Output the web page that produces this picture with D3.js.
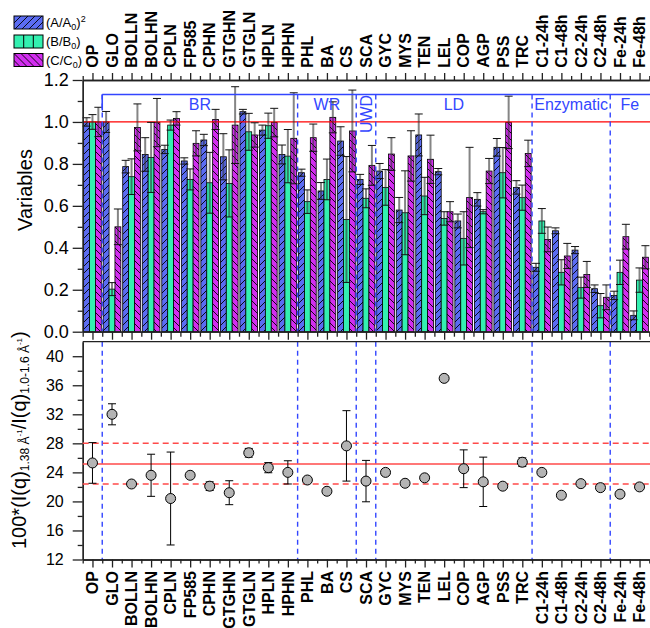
<!DOCTYPE html>
<html>
<head>
<meta charset="utf-8">
<script src="https://cdn.jsdelivr.net/npm/d3@7"></script>
<style>
  body { margin: 0; background: #fff; }
  svg { display: block; font-family: Arial, "Liberation Sans", sans-serif; }
</style>
</head>
<body>
<svg id="chart" width="650" height="628"></svg>
<script>
// ---- data ----
const cats = ["OP", "GLO", "BOLLN", "BOLHN", "CPLN", "FP585", "CPHN", "GTGHN", "GTGLN", "HPLN", "HPHN",
  "PHL", "BA", "CS", "SCA", "GYC", "MYS", "TEN", "LEL", "COP", "AGP", "PSS", "TRC",
  "C1-24h", "C1-48h", "C2-24h", "C2-48h", "Fe-24h", "Fe-48h"];

// (A/A0)^2
const valA = [1.0, 1.0, 0.787, 0.845, 0.869, 0.814, 0.914, 0.834, 1.049, 0.961, 0.845,
  0.758, 0.671, 0.909, 0.726, 0.766, 0.58, 0.938, 0.763, 0.528, 0.631, 0.879, 0.688,
  0.307, 0.481, 0.389, 0.205, 0.173, 0.078];
const errA = [0.02, 0.05, 0.03, 0.08, 0.02, 0.015, 0.027, 0.11, 0.011, 0.024, 0.045,
  0.017, 0.04, 0.068, 0.024, 0.036, 0.06, 0.1, 0.015, 0.033, 0.032, 0.042, 0.032,
  0.019, 0.014, 0.017, 0.018, 0.02, 0.021];
// (B/B0)
const valB = [1.0, 0.203, 0.739, 0.831, 0.985, 0.726, 0.71, 0.707, 0.953, 0.982, 0.837,
  0.62, 0.726, 0.535, 0.636, 0.688, 0.567, 0.647, 0.54, 0.445, 0.572, 0.758, 0.639,
  0.528, 0.283, 0.21, 0.124, 0.283, 0.246];
const errB = [0.035, 0.031, 0.085, 0.167, 0.024, 0.05, 0.145, 0.16, 0.088, 0.06, 0.127,
  0.056, 0.097, 0.3, 0.045, 0.085, 0.2, 0.089, 0.032, 0.127, 0.01, 0.12, 0.06,
  0.059, 0.06, 0.05, 0.058, 0.058, 0.058];
// (C/C0)
const valC = [1.0, 0.5, 0.974, 0.997, 1.017, 0.898, 1.012, 0.985, 0.938, 0.997, 0.922,
  0.925, 1.022, 0.957, 0.793, 0.847, 0.838, 0.822, 0.572, 0.64, 0.766, 0.998, 0.85,
  0.44, 0.361, 0.273, 0.164, 0.453, 0.355];
const errC = [0.07, 0.085, 0.112, 0.115, 0.032, 0.06, 0.048, 0.183, 0.058, 0.068, 0.217,
  0.065, 0.074, 0.195, 0.095, 0.078, 0.12, 0.115, 0.048, 0.239, 0.06, 0.125, 0.063,
  0.059, 0.06, 0.062, 0.059, 0.059, 0.055];

// 100*I(q)1.38 / I(q)1.0-1.6
const ratio = [25.3, 32.0, 22.4, 23.6, 20.4, 23.6, 22.1, 21.2, 26.7, 24.65, 24.0,
  22.95, 21.4, 27.65, 22.8, 24.0, 22.5, 23.25, 36.95, 24.5, 22.7, 22.1, 25.4,
  24.0, 20.85, 22.45, 21.9, 21.0, 22.0];
const ratioErr = [2.8, 1.45, 0.3, 2.9, 6.4, 0, 0.6, 1.65, 0.6, 0.7, 1.6,
  0.2, 0.3, 4.85, 2.85, 0.4, 0.2, 0.3, 0.3, 2.6, 3.4, 0.3, 0.6,
  0, 0, 0, 0, 0, 0];
const ratioRef = 25.15, ratioLo = 22.4, ratioHi = 28.0;

// sample groups: [start, end) category index
const groupNames = ["BR", "WR", "UWD", "LD", "Enzymatic", "Fe"];
const groupStart = [1, 11, 14, 15, 23, 27];
const groupEnd = [11, 14, 15, 23, 27, 29];

const topTicks = [0, 0.2, 0.4, 0.6, 0.8, 1.0, 1.2];
const topMinor = [0.1, 0.3, 0.5, 0.7, 0.9, 1.1];
const botTicks = [12, 16, 20, 24, 28, 32, 36, 40];
const botMinor = [14, 18, 22, 26, 30, 34, 38];

const seriesKeys = ["A", "B", "C"];
const seriesVals = { A: valA, B: valB, C: valC };
const seriesErr = { A: errA, B: errB, C: errC };

// ---- layout ----
const L = 82.7, R = 649.3;
const T0 = 80, T1 = 331.7;      // top panel
const B0 = 341.7, B1 = 559.5;   // bottom panel
const BLUE = "#3346ff", COLA = "#5b6cf2", COLB = "#33f0b0", COLC = "#d22ef0";
const CAT_FS = 16;

const svg = d3.select("#chart");
const x = d3.scaleBand().domain(cats).range([L, R]).padding(0);
const xi = d3.scaleLinear().domain([0, cats.length]).range([L, R]);
const xs = d3.scaleBand().domain(seriesKeys).range([0, x.bandwidth()]).paddingInner(0).paddingOuter(0.16);
const yT = d3.scaleLinear().domain([0, 1.2]).range([T1, T0]);
const yB = d3.scaleLinear().domain([12, 42]).range([B1, B0]);

// patterns
const defs = svg.append("defs");
function hatch(id, fill, d) {
  const p = defs.append("pattern").attr("id", id).attr("patternUnits", "userSpaceOnUse")
    .attr("width", 7).attr("height", 7);
  p.append("rect").attr("width", 7).attr("height", 7).attr("fill", fill);
  p.append("path").attr("d", d).attr("stroke", "#000").attr("stroke-width", 0.9);
}
hatch("hA", COLA, "M0,7 l7,-7 M-1.75,1.75 l3.5,-3.5 M5.25,8.75 l3.5,-3.5");
hatch("hC", COLC, "M0,0 l7,7 M-1.75,5.25 l3.5,3.5 M5.25,-1.75 l3.5,3.5");
const fillOf = { A: "url(#hA)", B: COLB, C: "url(#hC)" };

// ---- top panel: bars ----
const gBars = svg.append("g");
seriesKeys.forEach((k) => {
  gBars.selectAll("rect.b" + k).data(cats).join("rect").attr("class", "b" + k)
    .attr("x", (c) => x(c) + xs(k)).attr("width", xs.bandwidth())
    .attr("y", (c, i) => yT(seriesVals[k][i])).attr("height", (c, i) => T1 - yT(seriesVals[k][i]))
    .attr("fill", fillOf[k]).attr("stroke", "#000").attr("stroke-width", 0.8);
});

// red reference at 1.0
svg.append("line").attr("x1", L).attr("x2", 650).attr("y1", yT(1)).attr("y2", yT(1))
  .attr("stroke", "#ff0000").attr("stroke-width", 1.2);

// error bars
const gErr = svg.append("g");
seriesKeys.forEach((k) => {
  cats.forEach((c, i) => {
    const cx = x(c) + xs(k) + xs.bandwidth() / 2;
    const v = seriesVals[k][i], e = seriesErr[k][i];
    gErr.append("line").attr("x1", cx).attr("x2", cx).attr("y1", yT(v - e)).attr("y2", yT(v + e))
      .attr("stroke", "#333").attr("stroke-opacity", 0.6).attr("stroke-width", 2);
    [v - e, v + e].forEach((t) => gErr.append("line").attr("x1", cx - 4).attr("x2", cx + 4)
      .attr("y1", yT(t)).attr("y2", yT(t)).attr("stroke", "#111").attr("stroke-width", 1));
  });
});

// ---- group brackets ----
const yBr = yT(1.131);
svg.append("line").attr("x1", xi(1)).attr("x2", 650).attr("y1", yBr).attr("y2", yBr)
  .attr("stroke", BLUE).attr("stroke-width", 1.6);
svg.append("line").attr("x1", xi(1)).attr("x2", xi(1)).attr("y1", yBr).attr("y2", yBr + 16)
  .attr("stroke", BLUE).attr("stroke-width", 1.6);
const bounds = Array.from(new Set(groupStart));
bounds.forEach((b) => {
  [[yBr, T1], [B0, B1]].forEach(([a, z]) => svg.append("line")
    .attr("x1", xi(b)).attr("x2", xi(b)).attr("y1", a).attr("y2", z)
    .attr("stroke", BLUE).attr("stroke-width", 1.4).attr("stroke-dasharray", "5 4"));
});
groupNames.forEach((n, gi) => {
  const cx = xi((groupStart[gi] + groupEnd[gi]) / 2);
  const t = svg.append("text").attr("fill", BLUE).attr("font-size", 16).text(n);
  if (n === "UWD") {
    t.attr("x", cx).attr("y", 114).attr("dy", "0.36em").attr("text-anchor", "middle")
      .attr("transform", `rotate(-90,${cx},114)`);
  } else {
    t.attr("x", cx).attr("y", 110).attr("text-anchor", "middle");
  }
});

// ---- axes ----
function styleAxis(g) {
  g.attr("font-size", null).attr("font-family", null);
  g.selectAll("path, line").attr("stroke", "#222").attr("stroke-width", 1.3);
  g.selectAll("text").attr("fill", "#000");
}
const majors = cats.map((c, i) => i + 0.5);
const minors = d3.range(0, cats.length + 1);

// top panel
svg.append("g").attr("transform", `translate(${L},0)`)
  .call(d3.axisLeft(yT).tickValues(topTicks).tickFormat(d3.format(".1f")).tickSize(10).tickPadding(4).tickSizeOuter(0))
  .call(styleAxis).selectAll("text").attr("font-size", 18);
svg.append("g").attr("transform", `translate(${L},0)`)
  .call(d3.axisLeft(yT).tickValues(topMinor).tickFormat("").tickSize(5).tickSizeOuter(0)).call(styleAxis);
svg.append("g").attr("transform", `translate(0,${T0})`)
  .call(d3.axisTop(xi).tickValues(majors).tickFormat("").tickSize(7).tickSizeOuter(0)).call(styleAxis);
svg.append("g").attr("transform", `translate(0,${T0})`)
  .call(d3.axisTop(xi).tickValues(minors).tickFormat("").tickSize(4).tickSizeOuter(0)).call(styleAxis);
svg.append("g").attr("transform", `translate(0,${T1})`)
  .call(d3.axisBottom(xi).tickValues(majors).tickFormat("").tickSize(8).tickSizeOuter(0)).call(styleAxis);
svg.append("g").attr("transform", `translate(0,${T1})`)
  .call(d3.axisBottom(xi).tickValues(minors).tickFormat("").tickSize(5).tickSizeOuter(0)).call(styleAxis);

// bottom panel
svg.append("line").attr("x1", L).attr("x2", 650).attr("y1", B0).attr("y2", B0)
  .attr("stroke", "#222").attr("stroke-width", 1.3);
svg.append("g").attr("transform", `translate(${L},0)`)
  .call(d3.axisLeft(yB).tickValues(botTicks).tickSize(10).tickPadding(9).tickSizeOuter(0))
  .call(styleAxis).selectAll("text").attr("font-size", 16);
svg.append("g").attr("transform", `translate(${L},0)`)
  .call(d3.axisLeft(yB).tickValues(botMinor).tickFormat("").tickSize(5).tickSizeOuter(0)).call(styleAxis);
svg.append("g").attr("transform", `translate(0,${B1})`)
  .call(d3.axisBottom(xi).tickValues(majors).tickFormat("").tickSize(8).tickSizeOuter(0)).call(styleAxis);
svg.append("g").attr("transform", `translate(0,${B1})`)
  .call(d3.axisBottom(xi).tickValues(minors).tickFormat("").tickSize(4).tickSizeOuter(0)).call(styleAxis);

// category labels (top and bottom)
cats.forEach((c) => {
  const cx = x(c) + x.bandwidth() / 2;
  svg.append("text").attr("x", cx).attr("y", 67.7).attr("dy", "0.36em")
    .attr("transform", `rotate(-90,${cx},67.7)`).attr("font-size", CAT_FS).attr("font-weight", "bold").text(c);
  svg.append("text").attr("x", cx).attr("y", 571).attr("dy", "0.36em").attr("text-anchor", "end")
    .attr("transform", `rotate(-90,${cx},571)`).attr("font-size", CAT_FS).attr("font-weight", "bold").text(c);
});

// ---- bottom panel: reference lines + points ----
svg.append("line").attr("x1", L).attr("x2", 650).attr("y1", yB(ratioRef)).attr("y2", yB(ratioRef))
  .attr("stroke", "#ff4a4a").attr("stroke-width", 1.5);
[ratioLo, ratioHi].forEach((v) => svg.append("line").attr("x1", L).attr("x2", 650)
  .attr("y1", yB(v)).attr("y2", yB(v)).attr("stroke", "#ff4a4a").attr("stroke-width", 1.5)
  .attr("stroke-dasharray", "6 4"));

const gPts = svg.append("g");
cats.forEach((c, i) => {
  const cx = x(c) + x.bandwidth() / 2, v = ratio[i], e = ratioErr[i];
  if (e > 0) {
    gPts.append("line").attr("x1", cx).attr("x2", cx).attr("y1", yB(v - e)).attr("y2", yB(v + e))
      .attr("stroke", "#000").attr("stroke-width", 1);
    [v - e, v + e].forEach((t) => gPts.append("line").attr("x1", cx - 4).attr("x2", cx + 4)
      .attr("y1", yB(t)).attr("y2", yB(t)).attr("stroke", "#000").attr("stroke-width", 1));
  }
});
gPts.selectAll("circle").data(cats).join("circle")
  .attr("cx", (c) => x(c) + x.bandwidth() / 2).attr("cy", (c, i) => yB(ratio[i])).attr("r", 5)
  .attr("fill", "#b4b4b4").attr("stroke", "#000").attr("stroke-width", 1);

// ---- axis titles ----
svg.append("text").attr("x", 32).attr("y", 190).attr("text-anchor", "middle")
  .attr("transform", "rotate(-90,32,190)").attr("font-size", 20).text("Variables");

const yt = svg.append("text").attr("x", 26).attr("y", 549).attr("transform", "rotate(-90,26,549)")
  .attr("font-size", 20);
yt.append("tspan").text("100*(I(q)");
yt.append("tspan").attr("font-size", 12).attr("dy", 3).text("1.38 Å");
yt.append("tspan").attr("font-size", 8).attr("dy", -7).text("-1");
yt.append("tspan").attr("dy", 4).text("/I(q)");
yt.append("tspan").attr("font-size", 12).attr("dy", 3).text("1.0-1.6 Å");
yt.append("tspan").attr("font-size", 8).attr("dy", -7).text("-1");
yt.append("tspan").attr("dy", 4).text(")");

// ---- legend ----
const legTxt = [["(A/A", "0", ")", "2"], ["(B/B", "0", ")", ""], ["(C/C", "0", ")", ""]];
const legY = [16, 35, 53.5];
seriesKeys.forEach((k, i) => {
  const g = svg.append("g").attr("transform", `translate(14,${legY[i]})`);
  g.append("rect").attr("width", 29).attr("height", 13).attr("fill", fillOf[k])
    .attr("stroke", "#000").attr("stroke-width", 1);
  if (k === "B") [9.7, 19.3].forEach((lx) => g.append("line").attr("x1", lx).attr("x2", lx)
    .attr("y1", 0).attr("y2", 13).attr("stroke", "#000").attr("stroke-width", 1));
  const t = g.append("text").attr("x", 32).attr("y", 11).attr("font-size", 13);
  t.append("tspan").text(legTxt[i][0]);
  t.append("tspan").attr("font-size", 9).attr("dy", 3).text(legTxt[i][1]);
  t.append("tspan").attr("dy", -3).text(legTxt[i][2]);
  if (legTxt[i][3]) t.append("tspan").attr("font-size", 9).attr("dy", -5).text(legTxt[i][3]);
});
</script>
</body>
</html>
